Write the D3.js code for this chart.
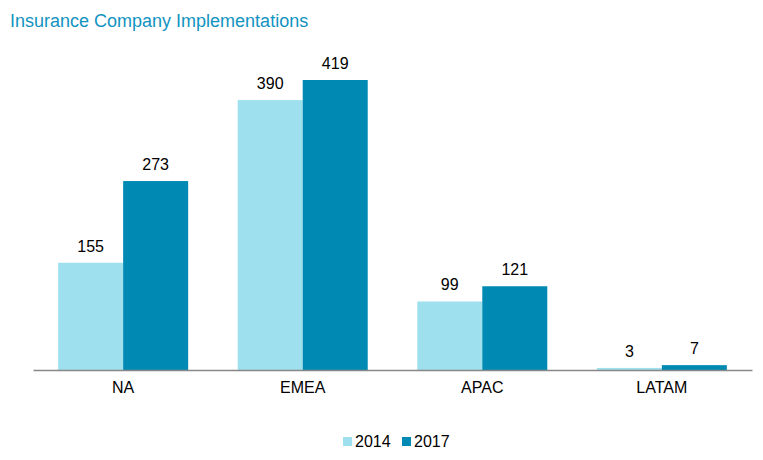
<!DOCTYPE html>
<html>
<head>
<meta charset="utf-8">
<script src="https://cdn.jsdelivr.net/npm/d3@7"></script>
<style>
  body { margin: 0; background: #fff; }
  text { font-family: "Liberation Sans", Arial, sans-serif; }
</style>
</head>
<body>
<script>
// data
const regions = ["NA", "EMEA", "APAC", "LATAM"];
const years = ["2014", "2017"];
const values2014 = [155, 390, 99, 3];
const values2017 = [273, 419, 121, 7];
const colors = ["#9fe0ee", "#0089b3"];

const W = 763, H = 460;

const svg = d3.select("body")
  .append("svg")
  .attr("width", W)
  .attr("height", H);

// title
svg.append("text")
  .attr("x", 10)
  .attr("y", 27)
  .attr("fill", "#1193c1")
  .style("font-size", "18px")
  .text("Insurance Company Implementations");

const x0 = d3.scaleBand()
  .domain(regions)
  .range([33, 752])
  .paddingInner(0.276)
  .paddingOuter(0.14);

const x1 = d3.scaleBand()
  .domain(years)
  .range([0, x0.bandwidth()])
  .padding(0);

const y = d3.scaleLinear()
  .domain([0, 450])
  .range([370, 370 - 450 * (290 / 419)]);

const series = [values2014, values2017];

const groups = svg.selectAll("g.region")
  .data(regions)
  .enter()
  .append("g")
  .attr("class", "region")
  .attr("transform", d => `translate(${x0(d)},0)`);

groups.selectAll("rect")
  .data((d, i) => years.map((yr, j) => ({ year: yr, value: series[j][i] })))
  .enter()
  .append("rect")
  .attr("x", d => x1(d.year))
  .attr("y", d => y(d.value))
  .attr("width", x1.bandwidth())
  .attr("height", d => y(0) - y(d.value))
  .attr("fill", (d, j) => colors[j]);

groups.selectAll("text.val")
  .data((d, i) => years.map((yr, j) => ({ year: yr, value: series[j][i] })))
  .enter()
  .append("text")
  .attr("class", "val")
  .attr("x", d => x1(d.year) + x1.bandwidth() / 2)
  .attr("y", d => y(d.value) - 11)
  .attr("text-anchor", "middle")
  .attr("fill", "#000")
  .style("font-size", "16px")
  .text(d => d.value);

// x axis
const xAxis = d3.axisBottom(x0).tickSize(0).tickPadding(12);
const ax = svg.append("g")
  .attr("transform", `translate(0,${y(0)})`)
  .call(xAxis);
ax.select(".domain").attr("stroke", "#888").attr("stroke-width", 1.3);
ax.selectAll("text")
  .attr("fill", "#000")
  .style("font-size", "16px")
  .style("font-family", "'Liberation Sans', Arial, sans-serif");

// legend
const legend = svg.append("g").attr("transform", "translate(343,437)");
const items = legend.selectAll("g")
  .data(years)
  .enter()
  .append("g")
  .attr("transform", (d, i) => `translate(${i * 59},0)`);
items.append("rect")
  .attr("width", 9)
  .attr("height", 9)
  .attr("fill", (d, i) => colors[i]);
items.append("text")
  .attr("x", 12)
  .attr("y", 10)
  .style("font-size", "16px")
  .attr("fill", "#000")
  .text(d => d);
</script>
</body>
</html>
